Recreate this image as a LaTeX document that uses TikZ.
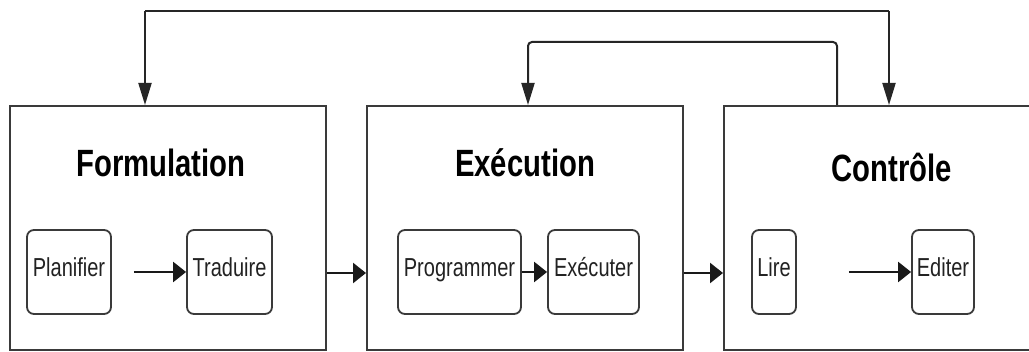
\documentclass[tikz,border=0pt]{standalone}
\usepackage{fontspec}
\newfontfamily\labfont[FakeStretch=0.77]{Liberation Sans}
\usetikzlibrary{arrows.meta}
\definecolor{linegray}{HTML}{3A3A3A}
\definecolor{txtgray}{HTML}{222222}
\tikzset{
  phase/.style={draw=linegray, line width=2pt, fill=white, inner sep=0pt},
  titlelab/.style={anchor=base, inner sep=0pt, text=black, font=\labfont\bfseries\fontsize{38}{40}\selectfont},
  task/.style={draw=linegray, line width=1.8pt, rounded corners=7pt, inner sep=0pt,
    text=txtgray, font=\labfont\fontsize{26}{28}\selectfont,
    text height=47pt, text depth=37pt, align=center},
  harr/.style={draw=black!90, line width=2.4pt, -{Triangle[length=13pt,width=20pt]}},
  varr/.style={draw=black!85, line width=2pt, -{Triangle[length=22pt,width=13pt]}},
  conn/.style={draw=black!85, line width=2pt}
}
\begin{document}
\begin{tikzpicture}[x=1pt,y=-1pt]
\useasboundingbox (0,0) rectangle (1029,352);
\clip (0,0) rectangle (1029,352);
\fill[white] (0,0) rectangle (1029,352);

% phases
\node[phase, minimum width=316pt, minimum height=244pt] (f) at (168,228) {};
\node[phase, minimum width=316pt, minimum height=244pt] (e) at (525,228) {};
\node[phase, minimum width=321pt, minimum height=244pt] (c) at (884.5,228) {};

\node[titlelab] (tf) at (161,177) {Formulation};
\node[titlelab] (te) at (525,177) {Exécution};
\node[titlelab] (tc) at (892,182) {Contrôle};

% tasks
\node[task, minimum width=84pt] (plan) at (69,272) {Planifier};
\node[task, minimum width=85pt] (trad) at (229.5,272) {Traduire};
\node[task, minimum width=123pt] (prog) at (459.5,272) {Programmer};
\node[task, minimum width=91pt] (exec) at (593.5,272) {Exécuter};
\node[task, minimum width=44pt] (lire) at (774,272) {Lire};
\node[task, minimum width=62pt] (edit) at (943,272) {Editer};

% inner arrows
\draw[harr, shorten <=22pt] (plan.east) -- (trad.west);
\draw[harr] (prog.east) -- (exec.west);
\draw[harr, shorten <=52pt] (lire.east) -- (edit.west);

% phase arrows
\draw[harr] (f.east |- 0,273) -- (e.west |- 0,273);
\draw[harr] (e.east |- 0,273) -- (c.west |- 0,273);

% feedback loops
\coordinate (a1) at (145,11);
\coordinate (a2) at (889,11);
\draw[conn] (a1) -- (a2);
\draw[varr] (a1) -- (a1 |- f.north);
\draw[varr] (a2) -- (a2 |- c.north);

\coordinate (b1) at (528,42);
\coordinate (b2) at (837,42);
\draw[varr, rounded corners=4pt] (b2 |- c.north) -- (b2) -- (b1) -- (b1 |- e.north);
\end{tikzpicture}
\end{document}
